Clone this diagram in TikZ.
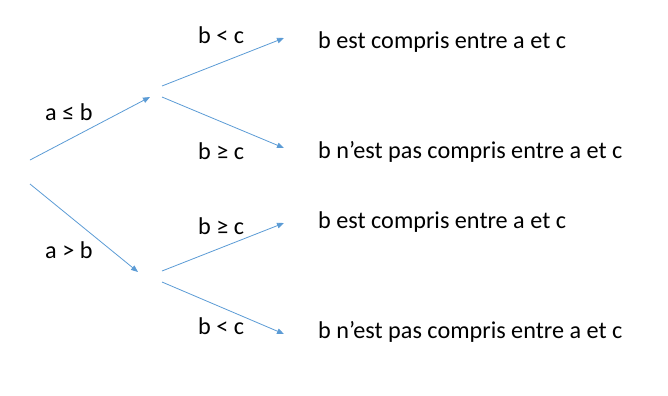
\documentclass[tikz,border=0pt]{standalone}
\usepackage{fontspec}
\setmainfont{Carlito}
\usetikzlibrary{arrows.meta}
\definecolor{branch}{RGB}{91,155,213}
\tikzset{
  edge/.style={draw=branch, line width=0.8bp, -{Triangle[length=7bp,width=5.5bp]}},
  lbl/.style={anchor=base west, inner sep=0pt, font=\fontsize{24.2bp}{29bp}\selectfont},
}
\begin{document}
\begin{tikzpicture}[x=1bp,y=-1bp]
\useasboundingbox (0,0) rectangle (668,395);
% branch end points
\coordinate (r1) at (30,160);
\coordinate (r2) at (30,184);
\coordinate (m1) at (150,97);
\coordinate (m2) at (138,272);
\coordinate (s1) at (162,86);
\coordinate (s2) at (162,97);
\coordinate (s3) at (162,271);
\coordinate (s4) at (162,282);
\coordinate (e1) at (284,38);
\coordinate (e2) at (284,148);
\coordinate (e3) at (284,223);
\coordinate (e4) at (284,334);
% first level
\draw[edge] (r1) -- (m1);
\draw[edge] (r2) -- (m2);
\node[lbl] (la) at (45,120) {a ≤ b};
\node[lbl] (lb) at (45,258) {a > b};
% second level
\draw[edge] (s1) -- (e1);
\draw[edge] (s2) -- (e2);
\draw[edge] (s3) -- (e3);
\draw[edge] (s4) -- (e4);
\node[lbl] (c1) at (198,43) {b < c};
\node[lbl] (c2) at (198,159) {b ≥ c};
\node[lbl] (c3) at (198,234) {b ≥ c};
\node[lbl] (c4) at (198,334) {b < c};
% outcomes
\node[lbl] (t1) at (318,48) {b est compris entre a et c};
\node[lbl] (t2) at (318,158) {b n’est pas compris entre a et c};
\node[lbl] (t3) at (318,228) {b est compris entre a et c};
\node[lbl] (t4) at (318,338) {b n’est pas compris entre a et c};
\end{tikzpicture}
\end{document}
